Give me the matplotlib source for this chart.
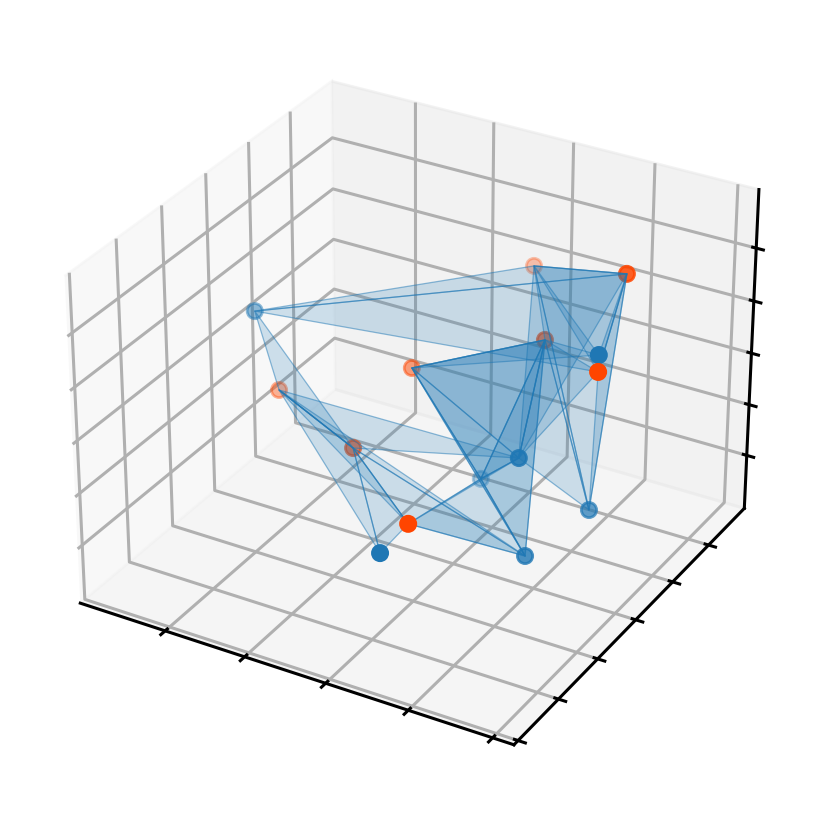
import matplotlib
matplotlib.use('Agg')
import matplotlib.pyplot as plt
from matplotlib.colors import to_rgba
from mpl_toolkits.mplot3d.art3d import Poly3DCollection

names="ABCDEFGHIJKLMNO"
#first 7 points are blue, the rest orange
x=[0.127, 0.699, 0.906, 0.937, 0.551, 0.822, 0.979, 0.165, 0.464, 0.734, 0.453, 0.535, 0.76, 0.994, 0.943]
y=[0.551, 0.048, 0.328, 0.587, 0.841, 0.468, 0.525, 0.588, 0.377, 0.111, 0.685, 1.144, 0.725, 0.49, 0.742]
z=[0.789, 0.48, 0.365, 0.368, 0.13, 0.595, 1.007, 0.478, 0.532, 0.56, 0.625, 0.759, 0.838, 0.975, 1.148]
fade=[.5,1,.8,.7,.35,.85,1,.4,.7,1,.5,.3,.7,1,.85]
tris=["AHI","HIB","HIJ","IJB","IJC","HIC","HIF","JFE","JEC","ALO","AON",
"KMG","KME","KMF","KMC","KFE","KEC","MEC","MFE","MFN","FOL","LGN","OGN","OND","LMD","MFD","LOD"]
xticks=[.2,.4,.6,.8,1.0]
yticks=[0,.2,.4,.6,.8,1.0]
zticks=[.2,.4,.6,.8,1.0]

fig=plt.figure(figsize=(4.15,4.07),dpi=200)
S=772
ax=fig.add_axes([(408-S/2)/830,(406.5-S/2)/814,S/830,S/814],projection='3d',computed_zorder=False)

#near points sit on top of the triangles, the far ones under them
cols=[to_rgba('tab:blue' if i<7 else 'orangered',fade[i]) for i in range(15)]
back=[i for i in range(15) if fade[i]<1]
front=[i for i in range(15) if fade[i]==1]
ax.scatter([x[i] for i in back],[y[i] for i in back],[z[i] for i in back],c=[cols[i] for i in back],s=30,depthshade=False,zorder=1)
ax.scatter([x[i] for i in front],[y[i] for i in front],[z[i] for i in front],c=[cols[i] for i in front],s=30,depthshade=False,zorder=3)

pts=dict(zip(names,zip(x,y,z)))
verts=[[pts[c] for c in tr] for tr in tris]
blue=(0.12,0.47,0.71)
ax.add_collection3d(Poly3DCollection(verts,facecolors=blue+(0.2,),edgecolors=blue+(0.5,),linewidths=0.45,zorder=2))

ax.set_xlim(-.018,1.05)
ax.set_ylim(-0.02,1.205)
ax.set_zlim(-.012,1.218)
ax.set_xticks(xticks)
ax.set_yticks(yticks)
ax.set_zticks(zticks)
ax.set_xticklabels([]);ax.set_yticklabels([]);ax.set_zticklabels([])
for a in (ax.xaxis,ax.yaxis,ax.zaxis):
    a._axinfo['grid']['linewidth']=1.1
    a._axinfo['tick']['linewidth']={True:1.1,False:1.1}
    a.line.set_linewidth(1.1)
fig.savefig('out.png',dpi=200)
